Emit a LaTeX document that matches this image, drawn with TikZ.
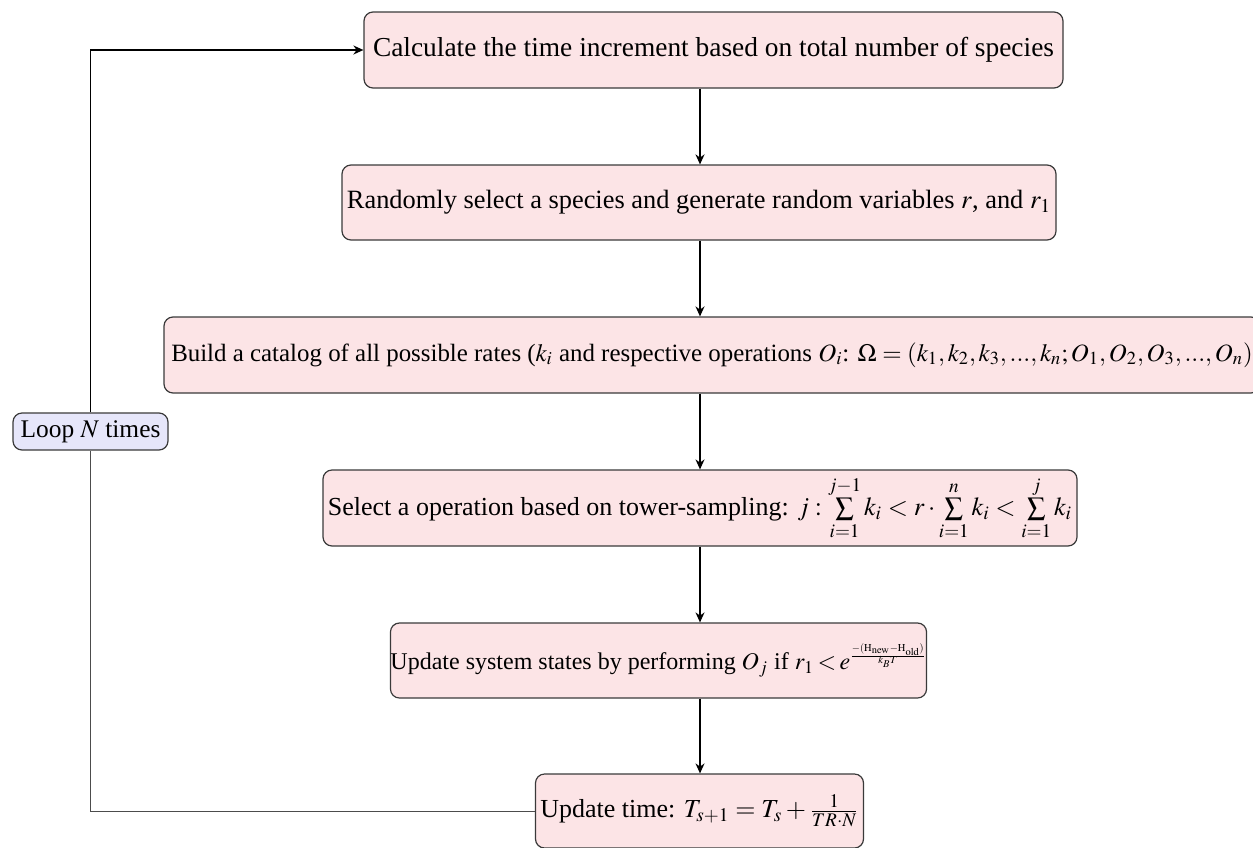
\documentclass[tikz,border=0pt]{standalone}
\usepackage{graphicx}
\usepackage{mathptmx}
\usepackage{fontspec}
\setmainfont{Liberation Serif}
\usetikzlibrary{arrows.meta}
\definecolor{boxfill}{HTML}{FCE4E6}
\definecolor{loopfill}{HTML}{E6E6FA}
\definecolor{edgegray}{HTML}{3A3A3A}
\newcommand{\fsz}[1]{\fontsize{#1}{1.2\dimexpr#1pt\relax}\selectfont}
\tikzset{
  proc/.style={draw=edgegray, line width=0.6pt, fill=boxfill, rounded corners=4.5pt,
    inner sep=0pt, align=center},
  loopbox/.style={draw=edgegray, line width=0.6pt, fill=loopfill, rounded corners=4.5pt,
    inner sep=0pt, align=center},
  arr/.style={line width=0.9pt, black, -{Stealth[length=5pt,width=4.5pt]}},
  thinline/.style={line width=0.5pt, black!70}
}
\begin{document}
\begin{tikzpicture}[x=0.5pt,y=-0.5pt]
\useasboundingbox (0,0) rectangle (1253,847);
\coordinate (ax) at (700,0);
\node[proc, font=\fsz{13.7}, minimum width=349.5pt, minimum height=38pt] (b1) at (713.5,50)
  {Calculate the time increment based on total number of species};
\node[proc, font=\fsz{13.2}, minimum width=357pt, minimum height=37.5pt] (b2) at (699,202.5)
  {Randomly select a species and generate random variables $r$, and $r_1$};
\node[proc, font=\fsz{12.45}, minimum width=548pt, minimum height=38pt] (b3) at (712,355)
  {Build a catalog of all possible rates ($k_i$ and respective operations $O_i$: $\Omega=(k_1,k_2,k_3,...,k_n;O_1,O_2,O_3,...,O_n)$};
\node[proc, font=\fsz{13}, minimum width=377pt, minimum height=38pt] (b4) at (700,508)
  {Select a operation based on tower-sampling: $j:\sum\limits_{i=1}^{j-1}k_i<r\cdot\sum\limits_{i=1}^{n}k_i<\sum\limits_{i=1}^{j}k_i$};
\node[proc, font=\fsz{12}, minimum width=266.5pt, minimum height=37.5pt] (b5) at (658.5,660.5)
  {Update system states by performing $\thickmuskip=2.5mu O_j$ if $\thickmuskip=2.5mu r_1<e^{\scalebox{0.75}{$\scriptscriptstyle\frac{-(\mathrm{H}_{\mathrm{new}}-\mathrm{H}_{\mathrm{old}})}{k_BT}$}}$};
\node[proc, font=\fsz{13}, minimum width=164pt, minimum height=37pt] (b6) at (699.5,811)
  {Update time: $T_{s+1}=T_s+\frac{1}{TR\cdot N}$};
\node[loopbox, font=\fsz{12.7}, minimum width=77.5pt, minimum height=18.5pt] (loop) at (90.5,431.5)
  {Loop $N$ times};
\draw[arr] (b1.south -| ax) -- (b2.north -| ax);
\draw[arr] (b2.south -| ax) -- (b3.north -| ax);
\draw[arr] (b3.south -| ax) -- (b4.north -| ax);
\draw[arr] (b4.south -| ax) -- (b5.north -| ax);
\draw[arr] (b5.south -| ax) -- (b6.north -| ax);
\draw[arr] (loop.north) |- (b1.west);
\draw[thinline] (loop.south) |- (b6.west);
\end{tikzpicture}
\end{document}
